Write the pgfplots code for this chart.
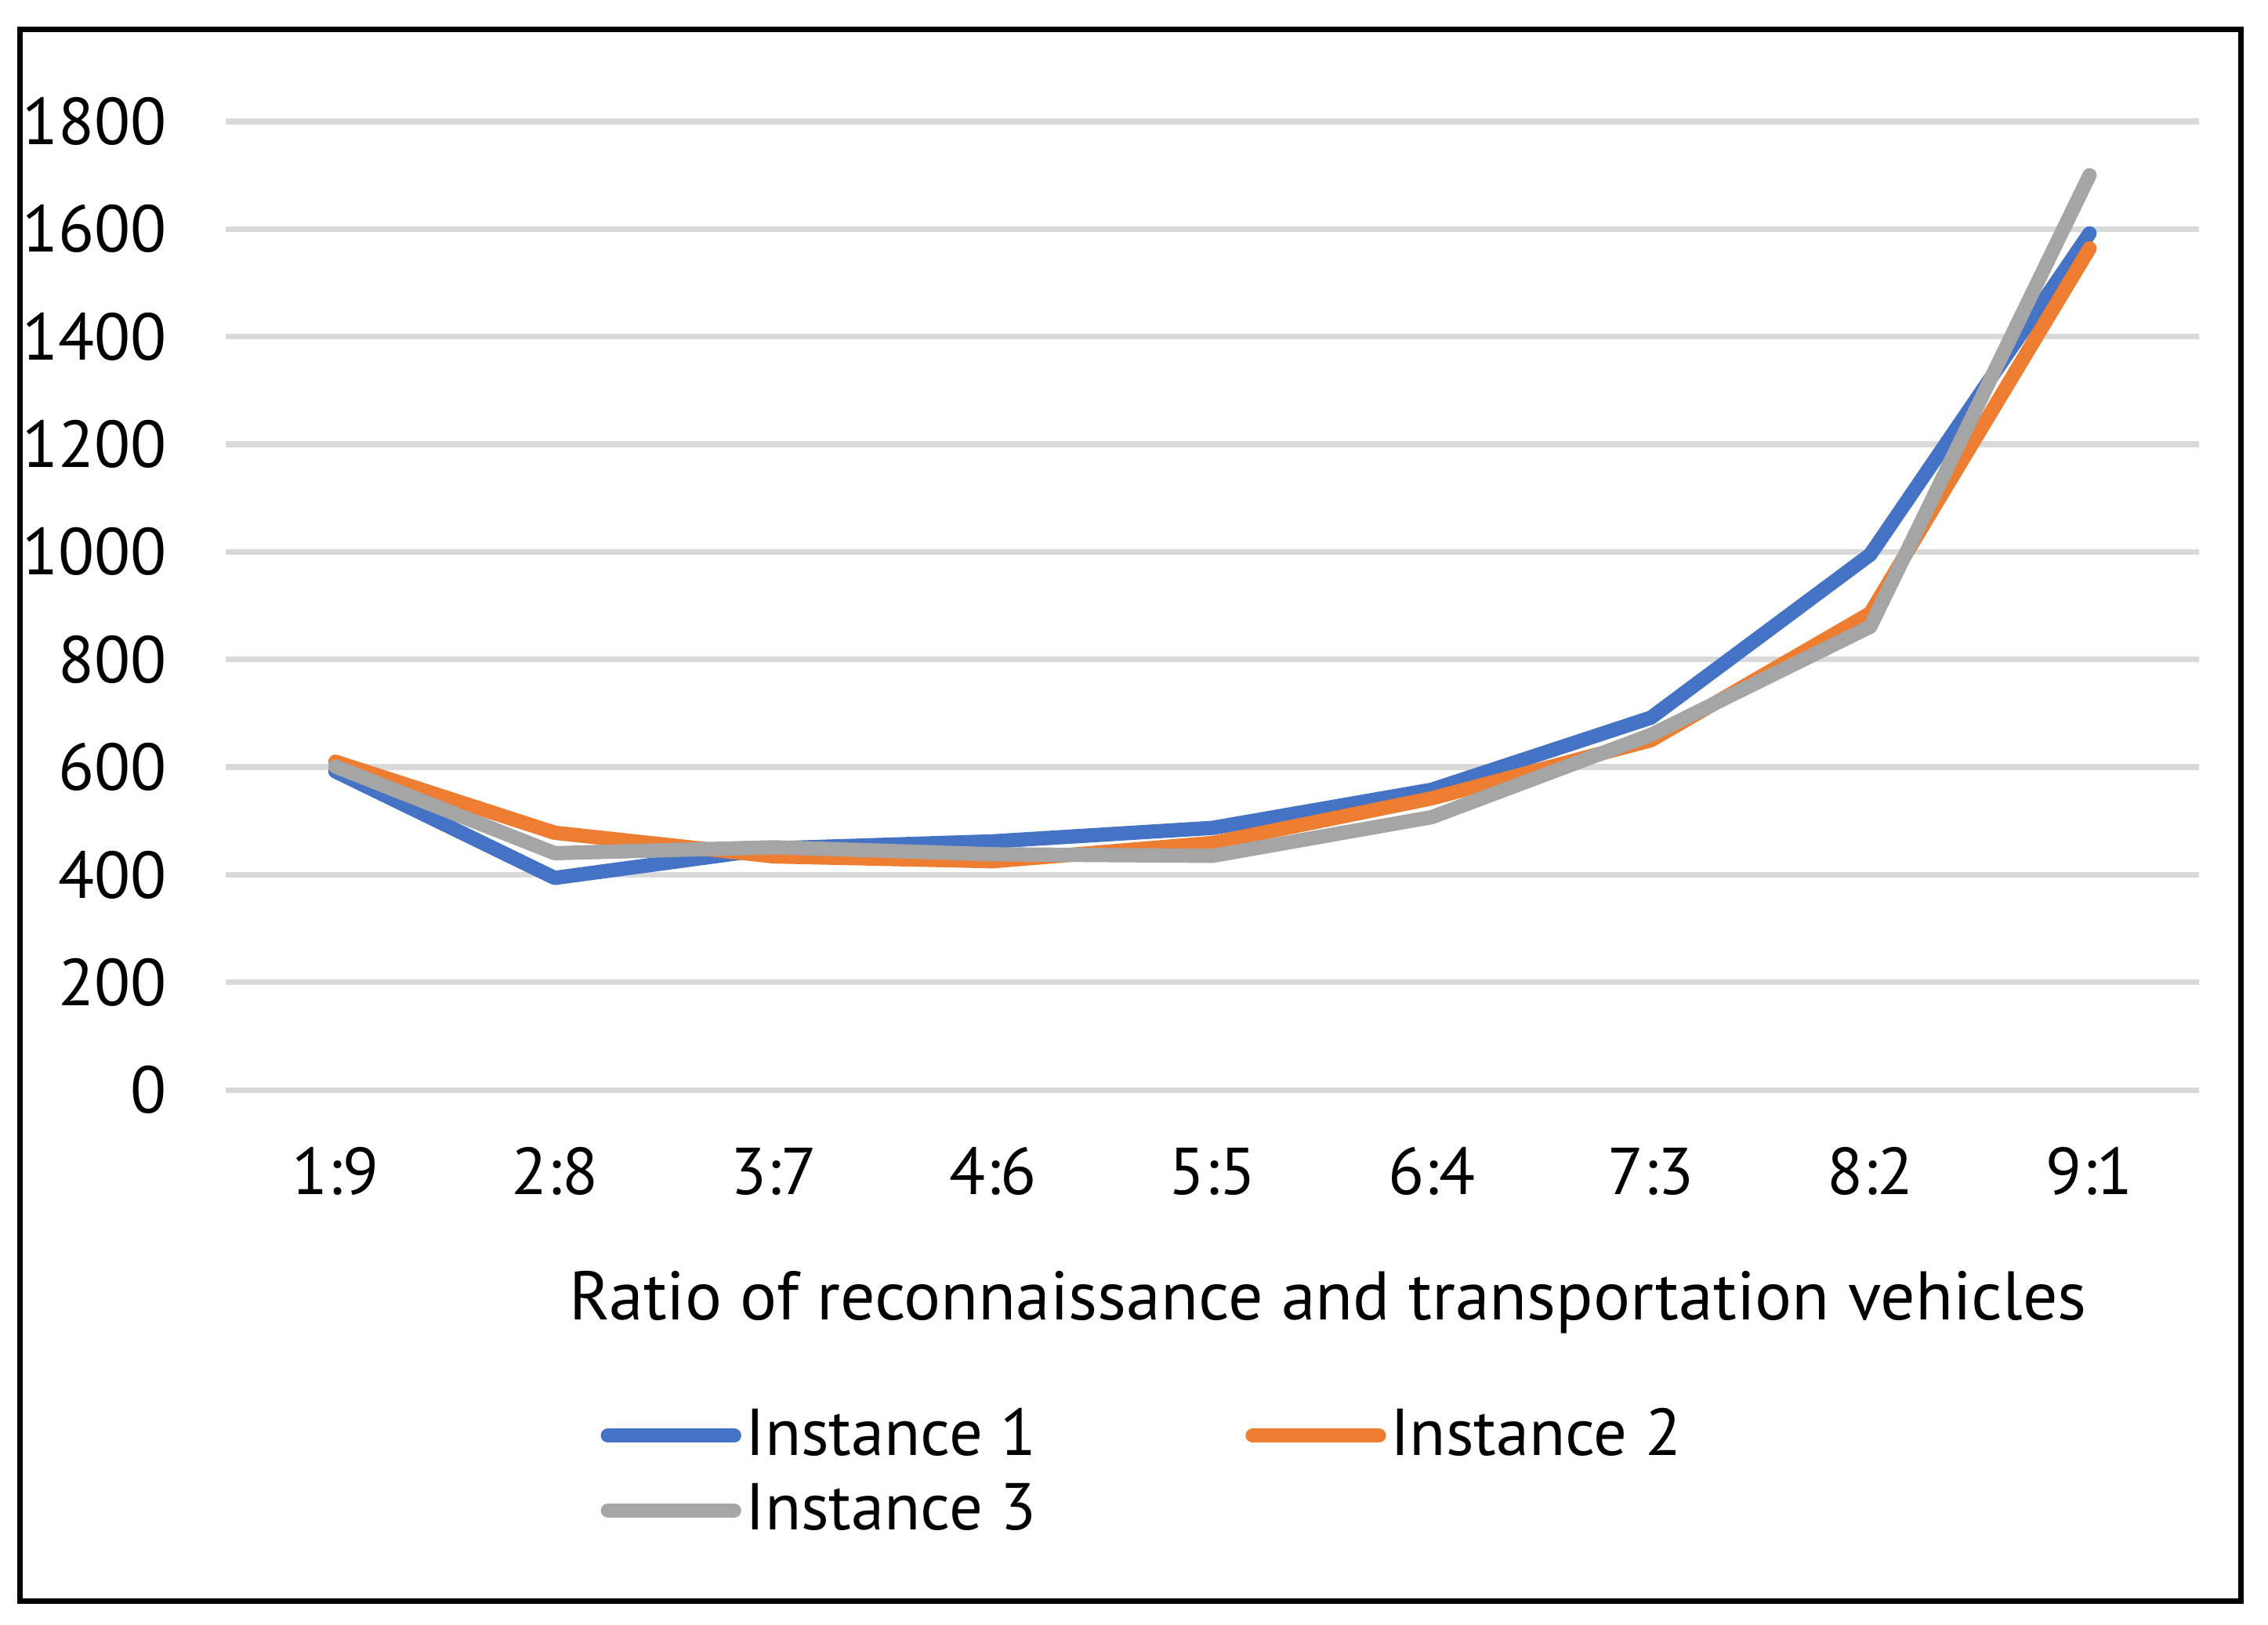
\documentclass[border=0pt]{standalone}
\usepackage{fontspec}
\setmainfont{PT Sans}
\usepackage{pgfplots}
\pgfplotsset{compat=1.18}

\definecolor{inst1}{HTML}{4472C4}
\definecolor{inst2}{HTML}{ED7D31}
\definecolor{inst3}{HTML}{A5A5A5}
\definecolor{gridgray}{HTML}{D9D9D9}

\newcommand{\chartfont}{\fontsize{13}{15.6}\selectfont}

\begin{document}
\begin{tikzpicture}
\useasboundingbox (0,0) rectangle (15.63,11.196);
\draw[black, line width=1.1pt] (0.138,0.159) rectangle (15.443,10.993);
\begin{axis}[
    at={(1.556cm,3.683cm)},
    anchor=south west,
    scale only axis,
    width=13.6cm,
    height=6.676cm,
    xmin=0.5, xmax=9.5,
    ymin=0, ymax=1800,
    xtick={1,2,3,4,5,6,7,8,9},
    xticklabels={1:9,2:8,3:7,4:6,5:5,6:4,7:3,8:2,9:1},
    ytick={0,200,400,600,800,1000,1200,1400,1600,1800},
    axis line style={draw=none},
    major tick length=0pt,
    ymajorgrids=true,
    grid style={gridgray, line width=1.1pt},
    clip=false,
    /pgf/number format/assume math mode=true,
    /pgf/number format/1000 sep={},
    tick label style={font=\chartfont, inner sep=0pt},
    xticklabel style={anchor=base, yshift=-0.72cm},
    yticklabel style={anchor=east, xshift=-0.40cm},
    xlabel={Ratio of reconnaissance and transportation vehicles},
    xlabel style={font=\fontsize{13.5}{16}\selectfont, at={(axis description cs:0.5585,-0.237)}, anchor=base, inner sep=0pt},
    legend columns=2,
    legend style={
        at={(axis description cs:0.1895,-0.3276)},
        anchor=north west,
        draw=none, fill=none,
        font=\chartfont,
        inner sep=0pt,
        row sep=4pt,
        nodes={inner sep=0pt},
        /tikz/every odd column/.style={column sep=0.03cm},
        /tikz/every even column/.style={column sep=1.44cm},
    },
    legend cell align=left,
    legend image code/.code={
        \draw[#1] (0cm,0cm) -- (0.87cm,0cm);
    },
    every axis plot/.append style={line width=2.8pt, line cap=round, line join=round},
]
\addplot[color=inst1] coordinates {
    (1,592)(2,394)(3,449)(4,462)(5,487)(6,558)(7,692)(8,995)(9,1592)
};
\addlegendentry{Instance 1}
\addplot[color=inst2] coordinates {
    (1,610)(2,478)(3,434)(4,425)(5,459)(6,542)(7,650)(8,886)(9,1564)
};
\addlegendentry{Instance 2}
\addplot[color=inst3] coordinates {
    (1,601)(2,440)(3,451)(4,438)(5,435)(6,507)(7,660)(8,861)(9,1700)
};
\addlegendentry{Instance 3}
\end{axis}
\end{tikzpicture}
\end{document}
